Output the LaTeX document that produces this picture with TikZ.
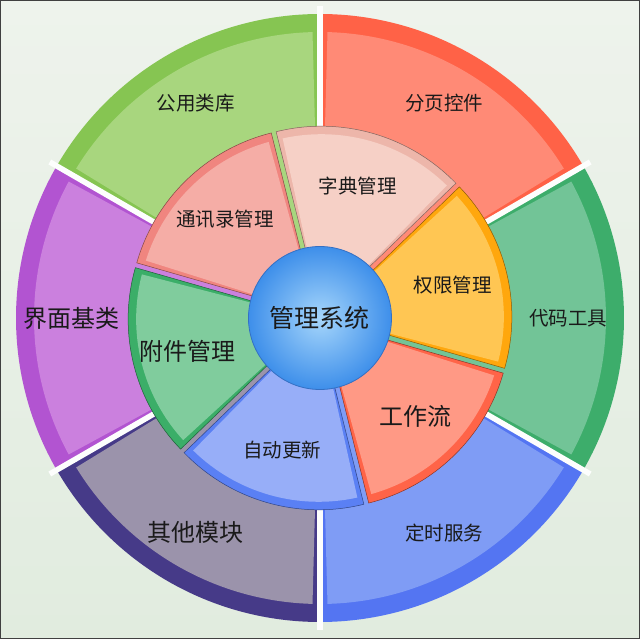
\documentclass[tikz,border=0pt]{standalone}
\usepackage{fontspec}
\newfontfamily\cjk{Noto Sans CJK SC}
\usetikzlibrary{shadings}

\definecolor{bgtop}{HTML}{EEF3EC}
\definecolor{bgbot}{HTML}{E1ECDF}
\definecolor{gongrim}{HTML}{86C552}
\definecolor{gongbody}{HTML}{A8D67E}
\definecolor{fenrim}{HTML}{FF6247}
\definecolor{fenbody}{HTML}{FF8A76}
\definecolor{dairim}{HTML}{3DAD6B}
\definecolor{daibody}{HTML}{72C497}
\definecolor{dingrim}{HTML}{5475F2}
\definecolor{dingbody}{HTML}{7F9CF5}
\definecolor{qirim}{HTML}{463A88}
\definecolor{qibody}{HTML}{9B93AB}
\definecolor{jierim}{HTML}{B254D1}
\definecolor{jiebody}{HTML}{CB80DE}
\definecolor{zirim}{HTML}{EDB6AA}
\definecolor{zibody}{HTML}{F6D0C6}
\definecolor{tongrim}{HTML}{F0857F}
\definecolor{tongbody}{HTML}{F5ADA6}
\definecolor{furim}{HTML}{3BAE68}
\definecolor{fubody}{HTML}{80CC9D}
\definecolor{zidongrim}{HTML}{5A80F4}
\definecolor{zidongbody}{HTML}{97AEF8}
\definecolor{gongzuorim}{HTML}{FF6448}
\definecolor{gongzuobody}{HTML}{FF9985}
\definecolor{quanrim}{HTML}{FFA70D}
\definecolor{quanbody}{HTML}{FFC653}
\definecolor{hubin}{HTML}{A6D6FB}
\definecolor{hubout}{HTML}{3E8FEA}
\definecolor{hubline}{HTML}{3470C4}
\definecolor{ink}{HTML}{1A1A1A}

\begin{document}
\begin{tikzpicture}[x=1pt,y=1pt,
	small/.style={font=\cjk\fontsize{19.5}{22}\selectfont,text=ink},
	large/.style={font=\cjk\fontsize{24}{27}\selectfont,text=ink}]
	\useasboundingbox (-320,-321) rectangle (320,318);
	\shade[top color=bgtop,bottom color=bgbot] (-320,-321) rectangle (320,318);
	\draw[black!75,line width=1.5] (-319.25,-320.25) rectangle (319.25,317.25);

	\foreach \a/\rim/\body/\txt/\sty [count=\i] in {90/gongrim/gongbody/公用类库/small, 30/fenrim/fenbody/分页控件/small, -30/dairim/daibody/代码工具/small, -90/dingrim/dingbody/定时服务/small, 210/qirim/qibody/其他模块/large, 150/jierim/jiebody/界面基类/large}{
		\fill[\rim] (0,0) -- (\a:304) arc[start angle=\a,end angle=\a+60,radius=304] -- cycle;
		\fill[\body] (0,0) -- (\a+1.5:286) arc[start angle=\a+1.5,end angle=\a+58.5,radius=286] -- cycle;
		\node[\sty] (outer\i) at (\a+30:248) {\txt};
	}

	\foreach \a in {30,90,...,330}{
		\draw[white!90!bgtop,line width=5.5] (\a:180) -- (\a:312);
	}

	\foreach \a/\rim/\body/\txt/\sty [count=\i] in {44/zirim/zibody/字典管理/small, 104/tongrim/tongbody/通讯录管理/small, 164/furim/fubody/附件管理/large, 224/zidongrim/zidongbody/自动更新/small, 284/gongzuorim/gongzuobody/工作流/large, 344/quanrim/quanbody/权限管理/small}{
		\begin{scope}[shift={(\a+30:5)}]
			\fill[\rim,draw=\rim!55!black,line width=0.5] (0,0) -- (\a:187) arc[start angle=\a,end angle=\a+60,radius=187] -- cycle;
			\fill[\body] (0,0) -- (\a+1.5:179) arc[start angle=\a+1.5,end angle=\a+58.5,radius=179] -- cycle;
		\end{scope}
		\node[\sty] (inner\i) at (\a+30:137) {\txt};
	}

	\node[circle,minimum size=143,inner sep=0,inner color=hubin,outer color=hubout,draw=hubline,line width=0.8,large,font=\cjk\fontsize{25}{28}\selectfont] (hub) at (0,0) {管理系统};
\end{tikzpicture}
\end{document}
